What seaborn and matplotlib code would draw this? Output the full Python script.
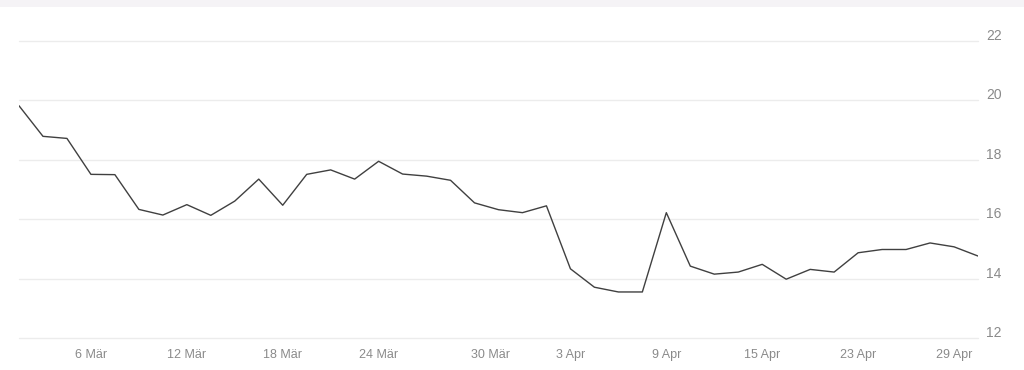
import matplotlib
matplotlib.use("Agg")
import matplotlib.pyplot as plt
import matplotlib.transforms as mtransforms
from matplotlib.patches import Rectangle
import seaborn as sns
import pandas as pd

# ---- data ----
values = [19.82, 18.79, 18.72, 17.51, 17.50, 16.33, 16.14, 16.49, 16.13, 16.61,
          17.35, 16.47, 17.51, 17.66, 17.35, 17.95, 17.52, 17.45, 17.31, 16.55,
          16.32, 16.22, 16.45, 14.33, 13.71, 13.55, 13.55, 16.22, 14.42, 14.15,
          14.22, 14.48, 13.98, 14.31, 14.22, 14.87, 14.98, 14.98, 15.20, 15.07,
          14.76]
tick_positions = [3, 7, 11, 15, 19, 23, 27, 31, 35, 39]
tick_labels = ["6 Mär", "12 Mär", "18 Mär", "24 Mär", "30 Mär",
               "3 Apr", "9 Apr", "15 Apr", "23 Apr", "29 Apr"]
y_ticks = [12, 14, 16, 18, 20, 22]

df = pd.DataFrame({"idx": list(range(len(values))), "value": values})

sns.set_theme(style="white")
plt.rcParams["font.family"] = ["Liberation Sans", "DejaVu Sans"]

fig = plt.figure(figsize=(10.24, 3.70), dpi=100)
fig.patch.set_facecolor("white")
fig.patches.append(Rectangle((0, 1 - 7 / 370), 1, 7 / 370, transform=fig.transFigure,
                             facecolor="#f5f3f6", edgecolor="none", zorder=0))

ax = fig.add_axes([19 / 1024, 1 - 338 / 370, (978 - 19) / 1024, (338 - 41) / 370])
sns.lineplot(data=df, x="idx", y="value", ax=ax, color="#404040", linewidth=1.0)

ax.set_xlim(0, len(values) - 1)
ax.set_ylim(12, 22)
ax.set_xlabel("")
ax.set_ylabel("")

ax.set_yticks(y_ticks)
ax.set_yticklabels([str(v) for v in y_ticks])
ax.yaxis.tick_right()
ax.set_xticks(tick_positions)
ax.set_xticklabels(tick_labels)

ax.tick_params(axis="y", length=0, pad=6, labelsize=10, labelcolor="#8a8a8a")
ax.tick_params(axis="x", length=0, pad=8, labelsize=9, labelcolor="#8a8a8a")
for lab in ax.get_yticklabels():
    lab.set_verticalalignment("bottom")
    lab.set_transform(lab.get_transform() + mtransforms.ScaledTranslation(0, -2 / 100, fig.dpi_scale_trans))
xl = ax.get_xticklabels()
xl[4].set_transform(xl[4].get_transform() + mtransforms.ScaledTranslation(16 / 100, 0, fig.dpi_scale_trans))

ax.grid(axis="y", color="#ececec", linewidth=1.0)
ax.grid(axis="x", visible=False)
for s in ax.spines.values():
    s.set_visible(False)
for gl in ax.get_ygridlines():
    gl.set_clip_on(False)

fig.savefig("out.png", dpi=100)
